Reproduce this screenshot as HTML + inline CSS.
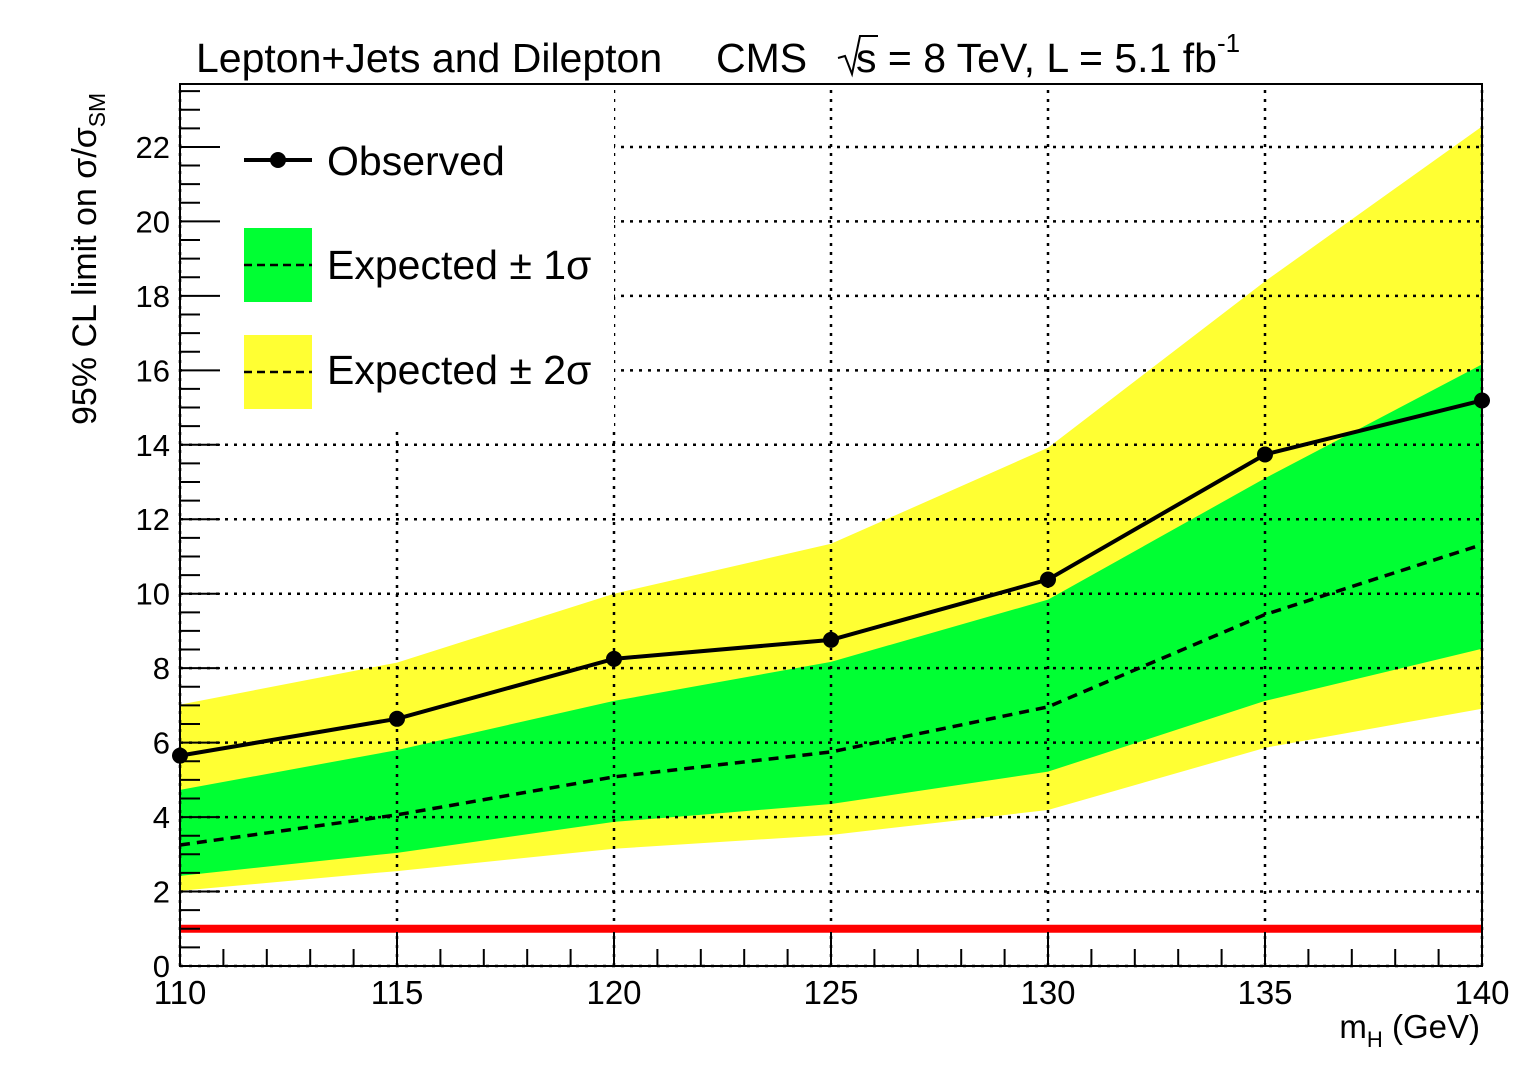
<!DOCTYPE html>
<html><head><meta charset="utf-8"><style>
body{margin:0;background:#fff}
svg text{font-family:"Liberation Sans",sans-serif}
</style></head><body>
<svg id="c" width="1524" height="1062" xmlns="http://www.w3.org/2000/svg"></svg>
<script>
const masses=[110,115,120,125,130,135,140];
const observed=[5.65,6.64,8.25,8.76,10.38,13.74,15.19];
const expected=[3.25,4.06,5.08,5.75,6.96,9.44,11.32];
const up1=[4.73,5.8,7.12,8.17,9.84,13.1,16.16];
const dn1=[2.42,3.04,3.87,4.35,5.22,7.12,8.52];
const up2=[7.02,8.15,10.0,11.34,13.92,18.39,22.55];
const dn2=[2.02,2.55,3.15,3.52,4.19,5.86,6.91];
const xTicks=[110,115,120,125,130,135,140];
const yTicks=[0,2,4,6,8,10,12,14,16,18,20,22];
const smLine=1;
const X0=180,X1=1482,Y0=966,YT=84,ymax=(966-84)/37.23;
const sx=v=>X0+(v-110)/30*(X1-X0);
const sy=v=>Y0-v*37.23;
const svg=document.getElementById('c');
const NS='http://www.w3.org/2000/svg';
function mk(t,a,p){const e=document.createElementNS(NS,t);for(const k in a)e.setAttribute(k,a[k]);(p||svg).appendChild(e);return e;}
function band(u,d,col,name){const pts=masses.map((m,i)=>sx(m)+','+sy(u[i])).concat(masses.map((m,i)=>sx(m)+','+sy(d[i])).reverse());
const e=mk('polygon',{points:pts.join(' '),fill:col});

}
band(up2,dn2,'#ffff33','band-2sigma');
band(up1,dn1,'#00ff33','band-1sigma');
xTicks.forEach(t=>{const l=mk('line',{x1:sx(t),x2:sx(t),y1:Y0,y2:YT,stroke:'#000','stroke-width':2.5,'stroke-dasharray':'3,6'});

});
yTicks.forEach(t=>{const l=mk('line',{x1:X0,x2:X1,y1:sy(t),y2:sy(t),stroke:'#000','stroke-width':2.5,'stroke-dasharray':'3,6'});

});
const lb=mk('rect',{x:182,y:86,width:432,height:342,fill:'#fff'});


const rl=mk('line',{x1:X0,x2:X1,y1:sy(smLine),y2:sy(smLine),stroke:'#ff0000','stroke-width':8});


const ex=mk('polyline',{points:masses.map((m,i)=>sx(m)+','+sy(expected[i])).join(' '),fill:'none',stroke:'#000','stroke-width':3.5,'stroke-dasharray':'10,7'});


const ob=mk('polyline',{points:masses.map((m,i)=>sx(m)+','+sy(observed[i])).join(' '),fill:'none',stroke:'#000','stroke-width':4});


masses.forEach((m,i)=>{const c=mk('circle',{cx:sx(m),cy:sy(observed[i]),r:8,fill:'#000'});

});
const fr=mk('rect',{x:X0,y:YT,width:X1-X0,height:Y0-YT,fill:'none',stroke:'#000','stroke-width':2});


for(let v=110;v<=140;v++){const L=(v%5==0)?34:17;
mk('line',{x1:sx(v),x2:sx(v),y1:Y0,y2:Y0-L,stroke:'#000','stroke-width':2});}
for(let v=0;v<=ymax;v+=0.5){const L=(v%2==0)?40:20;
mk('line',{x1:X0,x2:X0+L,y1:sy(v),y2:sy(v),stroke:'#000','stroke-width':2});}
xTicks.forEach(t=>{const e=mk('text',{x:sx(t),y:1004,'font-size':33,'text-anchor':'middle'});e.textContent=t;

});
yTicks.forEach(t=>{const e=mk('text',{x:170,y:sy(t)+11,'font-size':31,'text-anchor':'end'});e.textContent=t;

});
</script>
<svg width="1524" height="1062" style="position:absolute;left:0;top:0" xmlns="http://www.w3.org/2000/svg">
<g><text x="196" y="72" font-size="41" font-family="Liberation Sans">Lepton+Jets and Dilepton</text>
<text x="716" y="72" font-size="41" font-family="Liberation Sans">CMS</text>
<path d="M838 58 L845 56 L852 74 L860 36 L878 36" fill="none" stroke="#000" stroke-width="2"/>
<text x="856" y="72" font-size="41" font-family="Liberation Sans">s = 8 TeV, L = 5.1 fb<tspan font-size="26" dy="-20">-1</tspan></text></g>
<text x="1480" y="1038" font-size="33" text-anchor="end" font-family="Liberation Sans">m<tspan font-size="22" dy="9">H</tspan><tspan dy="-9"> (GeV)</tspan></text>
<text transform="translate(96,425) rotate(-90)" font-size="34" font-family="Liberation Sans">95% CL limit on σ/σ<tspan font-size="23" dy="9">SM</tspan></text>
<g font-family="Liberation Sans" font-size="41">
<g><line x1="244" x2="312" y1="160" y2="160" stroke="#000" stroke-width="4"/><circle cx="278" cy="160" r="8"/><text x="327" y="175">Observed</text></g>
<g><rect x="244" y="228" width="68" height="74" fill="#00ff33"/><line x1="244" x2="312" y1="265" y2="265" stroke="#000" stroke-width="2.5" stroke-dasharray="8,5"/><text x="327" y="279">Expected ± 1σ</text></g>
<g><rect x="244" y="335" width="68" height="74" fill="#ffff33"/><line x1="244" x2="312" y1="372" y2="372" stroke="#000" stroke-width="2.5" stroke-dasharray="8,5"/><text x="327" y="384">Expected ± 2σ</text></g>
</g>
</svg>
</body></html>
